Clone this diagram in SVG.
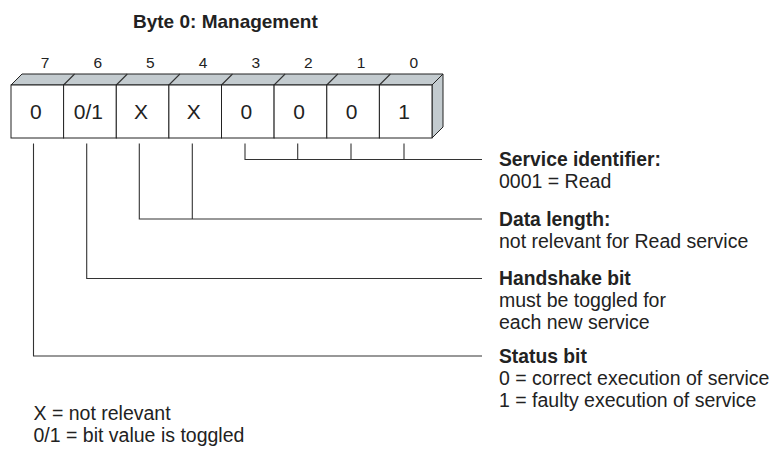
<svg xmlns="http://www.w3.org/2000/svg" width="778" height="451" viewBox="0 0 778 451">
<style>
text{font-family:"Liberation Sans",Arial,sans-serif;fill:#222}
.t{font-weight:bold;font-size:19px}
.h{font-weight:bold;font-size:19.3px}
.r{font-size:19.5px}
.n{font-size:15.5px;text-anchor:middle}
.v{font-size:21px;text-anchor:middle}
.face{fill:#c3cbcf;stroke:#222;stroke-width:1;stroke-linejoin:round}
.cell{fill:#fff;stroke:#222;stroke-width:1}
.ln{fill:none;stroke:#333;stroke-width:1.1}
</style>
<rect width="778" height="451" fill="#fff"/>
<text class="t" x="133" y="28">Byte 0: Management</text>

<g id="bit-numbers">
<text class="n" x="45" y="68">7</text>
<text class="n" x="97.7" y="68">6</text>
<text class="n" x="150.4" y="68">5</text>
<text class="n" x="203" y="68">4</text>
<text class="n" x="255.7" y="68">3</text>
<text class="n" x="308.4" y="68">2</text>
<text class="n" x="361" y="68">1</text>
<text class="n" x="413.7" y="68">0</text>
</g>

<g id="byte-box">
<polygon class="face" points="11,85 22,74 443,74 432,85"/>
<polygon class="face" points="432,85 443,74 443,127 432,138"/>
<g class="ln">
<path d="M63.6,85 L74.6,74 M116.3,85 L127.3,74 M168.9,85 L179.9,74 M221.5,85 L232.5,74 M274.1,85 L285.1,74 M326.8,85 L337.8,74 M379.4,85 L390.4,74"/>
</g>
</g>

<g id="bit7"><rect class="cell" x="11" y="85" width="52.6" height="53"/><text class="v" x="35.8" y="118.5">0</text></g>
<g id="bit6"><rect class="cell" x="63.6" y="85" width="52.7" height="53"/><text class="v" x="88.4" y="118.5">0/1</text></g>
<g id="bit5"><rect class="cell" x="116.3" y="85" width="52.6" height="53"/><text class="v" x="141" y="118.5">X</text></g>
<g id="bit4"><rect class="cell" x="168.9" y="85" width="52.6" height="53"/><text class="v" x="193.7" y="118.5">X</text></g>
<g id="bit3"><rect class="cell" x="221.5" y="85" width="52.6" height="53"/><text class="v" x="246.3" y="118.5">0</text></g>
<g id="bit2"><rect class="cell" x="274.1" y="85" width="52.7" height="53"/><text class="v" x="299" y="118.5">0</text></g>
<g id="bit1"><rect class="cell" x="326.8" y="85" width="52.6" height="53"/><text class="v" x="351.6" y="118.5">0</text></g>
<g id="bit0"><rect class="cell" x="379.4" y="85" width="52.6" height="53"/><text class="v" x="404.2" y="118.5">1</text></g>

<g id="connectors" class="ln">
<path d="M245,143.5 V159.5 H482 M297.7,143.5 V159.5 M351,143.5 V159.5 M404,143.5 V159.5"/>
<path d="M139.3,143.5 V219 H482 M192.3,143.5 V219"/>
<path d="M86.7,143.5 V278.5 H482"/>
<path d="M33.5,143.5 V356 H482"/>
</g>

<g id="label-service">
<text class="h" x="499" y="166">Service identifier:</text>
<text class="r" x="499" y="188">0001 = Read</text>
</g>
<g id="label-data">
<text class="h" x="499" y="225.7">Data length:</text>
<text class="r" x="499" y="247.7">not relevant for Read service</text>
</g>
<g id="label-handshake">
<text class="h" x="499" y="285">Handshake bit</text>
<text class="r" x="499" y="307">must be toggled for</text>
<text class="r" x="499" y="329">each new service</text>
</g>
<g id="label-status">
<text class="h" x="499" y="362.7">Status bit</text>
<text class="r" x="499" y="384.7">0 = correct execution of service</text>
<text class="r" x="499" y="406.7">1 = faulty execution of service</text>
</g>

<g id="legend">
<text class="r" x="33.5" y="420">X = not relevant</text>
<text class="r" x="33.5" y="442">0/1 = bit value is toggled</text>
</g>
</svg>
